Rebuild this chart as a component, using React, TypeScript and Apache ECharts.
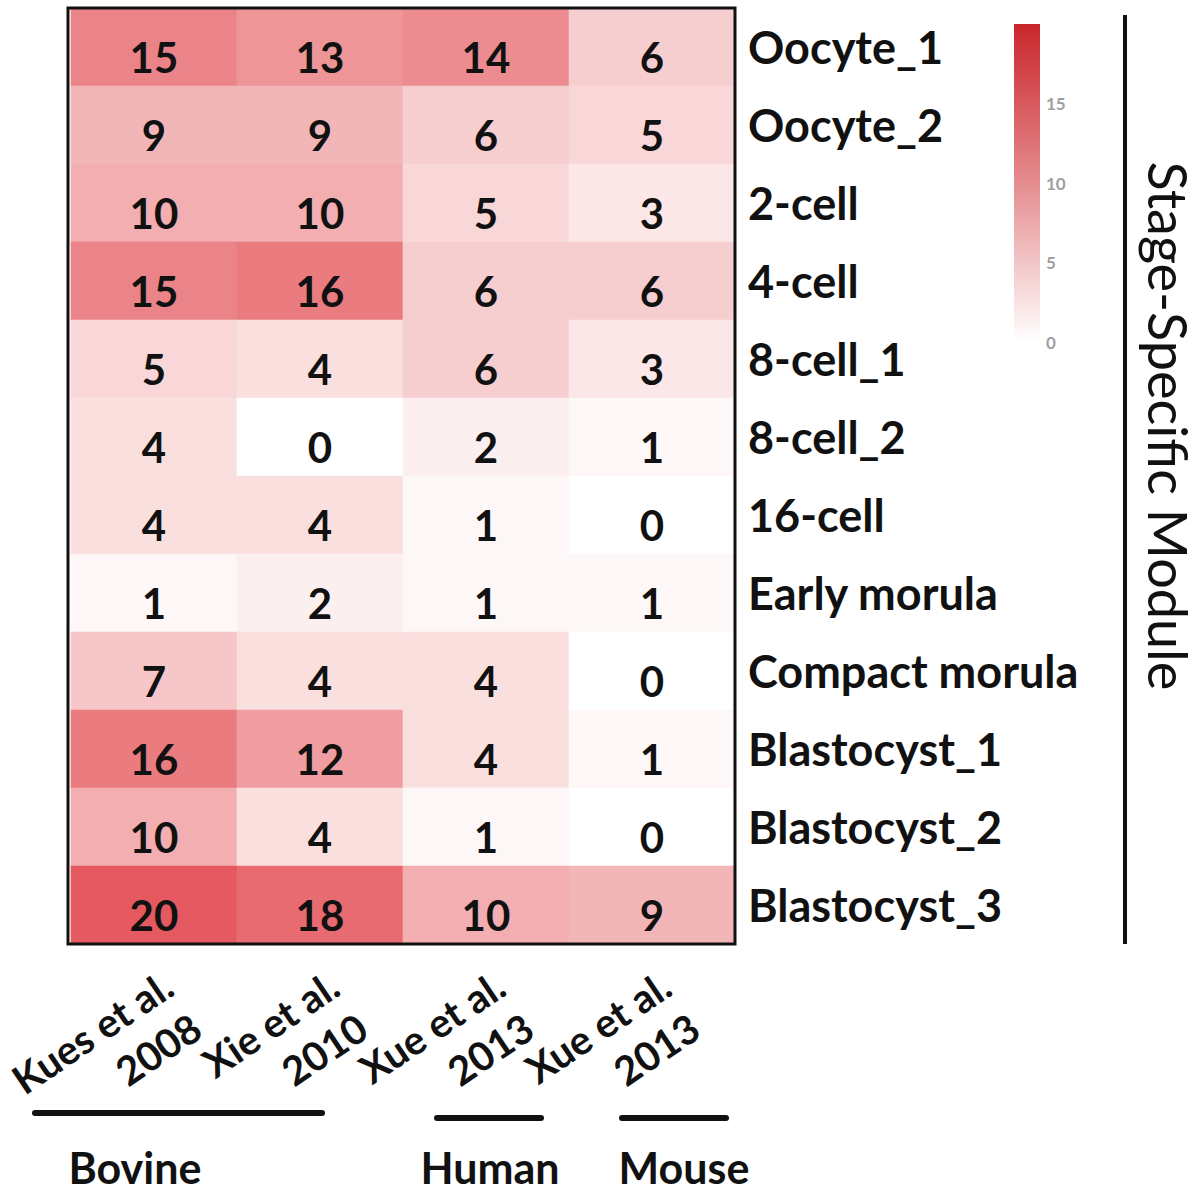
import React, { useEffect, useRef } from "react";
import * as echarts from "echarts";

const stages = [
  "Oocyte_1",
  "Oocyte_2",
  "2-cell",
  "4-cell",
  "8-cell_1",
  "8-cell_2",
  "16-cell",
  "Early morula",
  "Compact morula",
  "Blastocyst_1",
  "Blastocyst_2",
  "Blastocyst_3",
];

const studies = [
  "Kues et al.\n2008",
  "Xie et al.\n2010",
  "Xue et al.\n2013",
  "Xue et al.\n2013",
];

// one row per stage, one value per study
const kues2008 = [15, 9, 10, 15, 5, 4, 4, 1, 7, 16, 10, 20];
const xie2010 = [13, 9, 10, 16, 4, 0, 4, 2, 4, 12, 4, 18];
const xueHuman2013 = [14, 6, 5, 6, 6, 2, 1, 1, 4, 4, 1, 10];
const xueMouse2013 = [6, 5, 3, 6, 3, 1, 0, 1, 0, 1, 0, 9];

const legendTicks = [0, 5, 10, 15];
const legendMin = 0;
const legendMax = 20;

const species = [
  { name: "Bovine", x1: 35, x2: 322, y: 1113, tx: 135 },
  { name: "Human", x1: 437, x2: 541, y: 1118, tx: 490 },
  { name: "Mouse", x1: 622, x2: 726, y: 1118, tx: 684 },
];

const FONT = "Lato, 'Open Sans', sans-serif";
const GRID = { left: 68, top: 8, width: 667, height: 936 };
const LEG = { x: 1014, y: 24, w: 26, h: 318 };

export default function App() {
  const ref = useRef<HTMLDivElement>(null);

  useEffect(() => {
    if (!ref.current) return;
    const chart = echarts.init(ref.current, undefined, { renderer: "svg" });

    const columns = [kues2008, xie2010, xueHuman2013, xueMouse2013];
    const data: number[][] = [];
    columns.forEach((col, xi) => {
      col.forEach((v, yi) => data.push([xi, yi, v]));
    });

    const graphics: any[] = [];
    graphics.push({
      type: "rect",
      shape: { x: GRID.left, y: GRID.top, width: GRID.width, height: GRID.height },
      style: { fill: "none", stroke: "#111", lineWidth: 3 },
      z: 100,
    });
    graphics.push({
      type: "rect",
      shape: { x: LEG.x, y: LEG.y, width: LEG.w, height: LEG.h },
      style: {
        fill: new echarts.graphic.LinearGradient(0, 0, 0, 1, [
          { offset: 0, color: "#c9262c" },
          { offset: 0.5, color: "#e58c8f" },
          { offset: 1, color: "#ffffff" },
        ]),
      },
      z: 100,
    });
    legendTicks.forEach((t) => {
      graphics.push({
        type: "text",
        x: LEG.x + LEG.w + 6,
        y: LEG.y + LEG.h - ((t - legendMin) / (legendMax - legendMin)) * LEG.h,
        style: {
          text: String(t),
          fontSize: 17,
          fontFamily: FONT,
          fontWeight: "bold",
          fill: "#a0a0a0",
          textAlign: "left",
          textVerticalAlign: "middle",
        },
        z: 100,
      });
    });
    graphics.push({
      type: "line",
      shape: { x1: 1125, y1: 15, x2: 1125, y2: 944 },
      style: { stroke: "#111", lineWidth: 4 },
    });
    graphics.push({
      type: "text",
      x: 1168,
      y: 426,
      rotation: -Math.PI / 2,
      style: {
        text: "Stage-Specific Module",
        fontSize: 54,
        fontFamily: FONT,
        fill: "#111",
        textAlign: "center",
        textVerticalAlign: "middle",
      },
    });
    species.forEach((s) => {
      graphics.push({
        type: "line",
        shape: { x1: s.x1, y1: s.y, x2: s.x2, y2: s.y },
        style: { stroke: "#111", lineWidth: 6, lineCap: "round" },
      });
      graphics.push({
        type: "text",
        x: s.tx,
        y: 1167,
        style: {
          text: s.name,
          fontSize: 43,
          fontWeight: "bold",
          fontFamily: FONT,
          fill: "#111",
          textAlign: "center",
          textVerticalAlign: "middle",
        },
      });
    });

    chart.setOption({
      animation: false,
      backgroundColor: "#ffffff",
      grid: { ...GRID },
      xAxis: {
        type: "category",
        data: studies,
        position: "bottom",
        axisLine: { show: false },
        axisTick: { show: false },
        splitArea: { show: false },
        axisLabel: {
          rotate: 34,
          interval: 0,
          margin: 16,
          align: "right",
          verticalAlign: "top",
          fontSize: 40,
          lineHeight: 51,
          fontWeight: "bold",
          fontFamily: FONT,
          color: "#111",
        },
      },
      yAxis: {
        type: "category",
        data: stages,
        inverse: true,
        position: "right",
        axisLine: { show: false },
        axisTick: { show: false },
        axisLabel: {
          margin: 13,
          fontSize: 45,
          fontWeight: "bold",
          fontFamily: FONT,
          color: "#111",
          padding: [8, 0, 0, 0],
        },
      },
      visualMap: {
        show: false,
        min: legendMin,
        max: legendMax,
        dimension: 2,
        inRange: { color: ["#ffffff", "#f2aeb0", "#e45a60"] },
      },
      series: [
        {
          type: "heatmap",
          data,
          label: {
            show: true,
            fontSize: 42,
            fontWeight: "bold",
            fontFamily: FONT,
            color: "#111",
            offset: [0, 10],
          },
          itemStyle: { borderWidth: 0 },
          emphasis: { disabled: true },
        },
      ],
      graphic: graphics,
    });

    return () => chart.dispose();
  }, []);

  return (
    <div
      ref={ref}
      style={{ position: "absolute", left: 0, top: 0, width: 1200, height: 1191 }}
    />
  );
}
